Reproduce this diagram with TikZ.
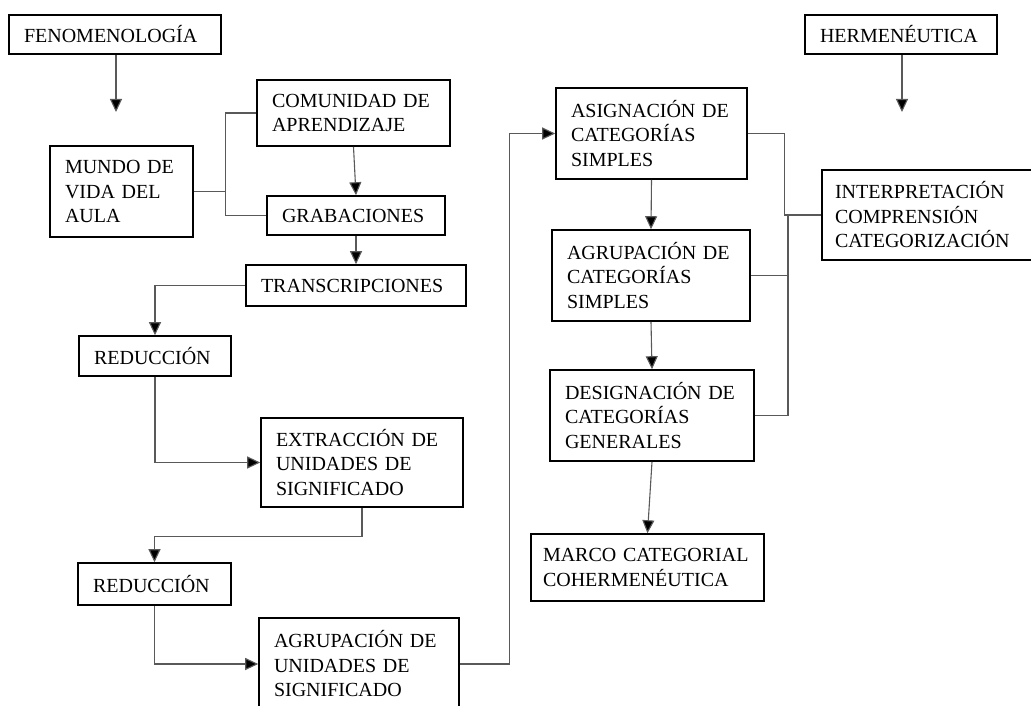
\documentclass[tikz,border=0pt]{standalone}
\usepackage{fontspec}
\setmainfont{Liberation Serif}
\usetikzlibrary{arrows.meta}
\newcommand\boxfont{\fontsize{20}{24.5}\selectfont\hyphenpenalty=10000\exhyphenpenalty=10000}
\begin{document}
\begin{tikzpicture}[x=1pt,y=-1pt,
  box/.style={draw=black, line width=1.6pt, inner xsep=15pt, inner ysep=0pt, align=left, font=\boxfont},
  conn/.style={draw=black!65, line width=1.1pt},
  arr/.style={conn, -{Triangle[length=13pt,width=12pt,fill=black]}}]
\useasboundingbox (0,0) rectangle (1031,706);
% left column
\node[box, text width=182pt, minimum height=39pt] (fen) at (115,34.5) {FENOMENOLOGÍA};
\node[box, text width=113pt, minimum height=91pt] (mundo) at (121.5,191.5) {MUNDO DE\\VIDA DEL\\AULA};
\node[box, text width=163pt, minimum height=66pt] (com) at (353.5,113) {COMUNIDAD DE\\APRENDIZAJE};
\node[box, text width=148pt, minimum height=39pt] (grab) at (356,215.5) {GRABACIONES};
\node[box, text width=190pt, minimum height=41pt] (trans) at (356,285.5) {TRANSCRIPCIONES};
\node[box, text width=122pt, minimum height=40pt] (red1) at (155,356) {REDUCCIÓN};
\node[box, text width=172pt, minimum height=89pt] (ext) at (362,462.5) {EXTRACCIÓN DE\\UNIDADES DE\\SIGNIFICADO};
\node[box, text width=123pt, minimum height=42pt] (red2) at (154.5,584) {REDUCCIÓN};
\node[box, text width=170pt, minimum height=92pt] (agu) at (359,664) {AGRUPACIÓN DE\\UNIDADES DE\\SIGNIFICADO};
% right column
\node[box, text width=162pt, minimum height=39pt] (her) at (901,34.5) {HERMENÉUTICA};
\node[box, text width=161pt, minimum height=91pt] (asig) at (651.5,133.5) {ASIGNACIÓN DE\\CATEGORÍAS\\SIMPLES};
\node[box, text width=168pt, minimum height=91pt] (agc) at (651,275.5) {AGRUPACIÓN DE\\CATEGORÍAS\\SIMPLES};
\node[box, text width=174pt, minimum height=91pt] (des) at (652,415.5) {DESIGNACIÓN DE\\CATEGORÍAS\\GENERALES};
\node[box, inner xsep=12pt, text width=209pt, minimum height=67pt] (marco) at (647.5,567.5) {MARCO CATEGORIAL\\COHERMENÉUTICA};
\node[box, inner xsep=13pt, text width=192pt, minimum height=90pt] (interp) at (931,215) {INTERPRETACIÓN\\COMPRENSIÓN\\CATEGORIZACIÓN};
% free ends
\coordinate (fenend) at (116,112);
\coordinate (herend) at (902,112);
\coordinate (j) at (788,215);
% connectors
\draw[arr] (fen.south -| fenend) -- (fenend);
\draw[arr] (her.south -| herend) -- (herend);
\draw[conn] (mundo.east) -- ++(32,0) |- (com.west);
\draw[conn] (mundo.east) -- ++(32,0) |- (grab.west);
\draw[arr] (com.south) -- (grab.north);
\draw[arr] (grab.south) -- (trans.north);
\draw[arr] (trans.west) -| (red1.north);
\draw[arr] (red1.south) |- (ext.west);
\draw[arr] (ext.south) -- ++(0,29) -| (red2.north);
\draw[arr] (red2.south) |- (agu.west);
\draw[arr] (agu.east) -- ++(50,0) |- (asig.west);
\draw[arr] (asig.south) -- (agc.north);
\draw[arr] (agc.south) -- (des.north);
\draw[arr] (des.south) -- (marco.north);
\draw[conn] (asig.east) -- ++(37,0) |- (interp.west);
\draw[conn] (agc.east) -- (agc.east -| j);
\draw[conn] (des.east) -| (j);
\end{tikzpicture}
\end{document}
